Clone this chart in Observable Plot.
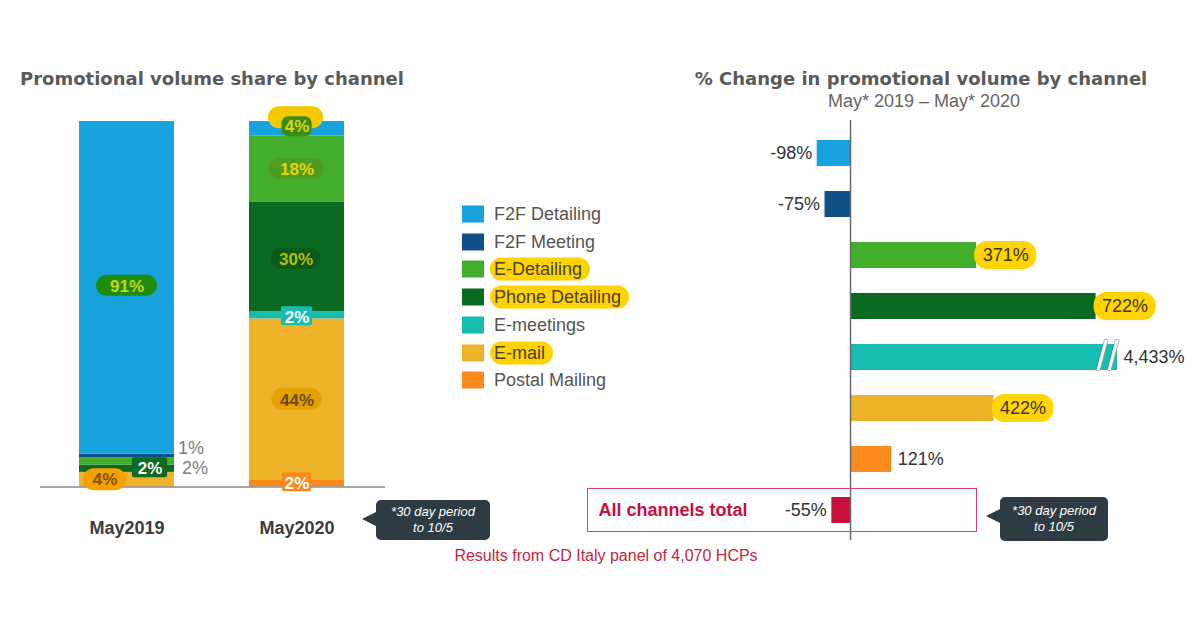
<!DOCTYPE html>
<html><head><meta charset="utf-8">
<script src="https://cdn.jsdelivr.net/npm/d3@7"></script>
<script src="https://cdn.jsdelivr.net/npm/@observablehq/plot@0.6"></script>
<style>
html,body{margin:0;padding:0;background:#fff;}
#root{position:relative;width:1200px;height:630px;overflow:hidden;font-family:"Liberation Sans",Arial,sans-serif;background:#fff;}
.abs{position:absolute;white-space:nowrap;}
.vc{transform:translateY(-50%);}
.title{font-family:"DejaVu Sans",sans-serif;font-weight:bold;font-size:18px;color:#5a5a5a;}
.sub{font-size:18px;color:#666;}
.foot{font-size:16px;color:#c0283a;}
.leg{display:flex;align-items:center;font-size:18px;color:#555;}
.sw{width:22px;height:17px;margin-right:10px;}
.hl{background:#ffd400;border-radius:12px;padding:1px 8px 1px 4px;margin-left:-4px;color:#4a4020;}
.callout{background:#2f3b43;color:#fff;font-style:italic;font-size:13px;line-height:16px;text-align:center;border-radius:5px;display:flex;align-items:center;justify-content:center;}
.callout::before{content:"";position:absolute;left:-14px;top:12px;border-top:7px solid transparent;border-bottom:7px solid transparent;border-right:14px solid #2f3b43;}
.box{border:1.5px solid #d2456e;box-sizing:border-box;}
</style></head><body><div id="root"></div><script>
// ---------- data ----------
const channels = ["F2F Detailing","F2F Meeting","E-Detailing","Phone Detailing","E-meetings","E-mail","Postal Mailing"];
const channelColors = ["#17a2dd","#114f88","#41ae2c","#0a6a22","#17bdb1","#efb22b","#fa8a1c"];
const periods = ["May2019","May2020"];
const share2019 = [91,1,2,2,0,4,0];
const share2020 = [4,0,18,30,2,44,2];
const changeLabels = ["F2F Detailing","F2F Meeting","E-Detailing","Phone Detailing","E-meetings","E-mail","Postal Mailing","All channels total"];
const changeValues = [-98,-75,371,722,4433,422,121,-55];
const totalColor = "#c8103e";
const highlighted = ["E-Detailing","Phone Detailing","E-mail"];

// ---------- derived ----------
const colorOf = Object.fromEntries(channels.map((c,i)=>[c,channelColors[i]]));
colorOf["All channels total"] = totalColor;
const shares = {May2019: share2019, May2020: share2020};
const stackOrder = [...channels].reverse(); // bottom to top
const shareRows = [];
for (const p of periods) for (const c of stackOrder) shareRows.push({period:p, channel:c, value: shares[p][channels.indexOf(c)]});
const stackInfo = {};
for (const p of periods){ let cum=0; stackInfo[p]={}; for (const c of stackOrder){ const v=shares[p][channels.indexOf(c)]; stackInfo[p][c]={lo:cum,hi:cum+v,mid:cum+v/2,value:v}; cum+=v; } }
const pct = v => (v < 0 ? "-" : "") + d3.format(",")(Math.abs(v)) + "%";

const root = document.getElementById("root");
function addDiv(cls, html, css){ const d=document.createElement("div"); d.className=cls; d.innerHTML=html; Object.assign(d.style, css); root.appendChild(d); return d; }

// ---------- left chart ----------
const ppu = 365.5/100; // px per unit on left y
const bw = 95.8;
// pills: offsets in px (dy downward) relative to the segment midpoint
const notes = [
 {period:"May2019", channel:"F2F Detailing", pills:[{fill:"#1e8c0c", w:62, h:21, dx:0, dy:-2}], text:"#c9d41c", dx:0, dy:-2},
 {period:"May2019", channel:"E-mail", pills:[{fill:"#f3a200", w:44, h:22, dx:-22, dy:0}], text:"#8a4c06", dx:-22, dy:-1},
 {period:"May2019", channel:"Phone Detailing", pills:[{fill:"#0b6b22", w:36, h:20, dx:23, dy:-1, r:2}], text:"#ffffff", dx:23, dy:-1},
 {period:"May2020", channel:"F2F Detailing", pills:[{fill:"#f6c800", w:56, h:22, dx:-1, dy:-11}, {fill:"#3a8c14", w:31, h:20, dx:0, dy:-2, r:7}], text:"#d8d41a", dx:0, dy:-3},
 {period:"May2020", channel:"E-Detailing", pills:[{fill:"#4f9c1e", w:56, h:21, dx:0, dy:0}], text:"#e2d60e", dx:0, dy:0},
 {period:"May2020", channel:"Phone Detailing", pills:[{fill:"#0a5a1c", w:51, h:21, dx:-1, dy:2}], text:"#b5bd0a", dx:-1, dy:2},
 {period:"May2020", channel:"E-meetings", pills:[{fill:"#17bdb1", w:32, h:19, dx:0, dy:1, r:2}], text:"#ffffff", dx:0, dy:1},
 {period:"May2020", channel:"E-mail", pills:[{fill:"#e4a200", w:51, h:22, dx:0, dy:0}], text:"#6a4a10", dx:0, dy:0},
 {period:"May2020", channel:"Postal Mailing", pills:[{fill:"#fa8a1c", w:30, h:19, dx:0, dy:-1, r:2}], text:"#ffffff", dx:0, dy:-1}
];
const outside = [
 {period:"May2019", channel:"F2F Meeting", dx:51, dy:-8},
 {period:"May2019", channel:"E-Detailing", dx:55, dy:7}
];
const mid = d => stackInfo[d.period][d.channel].mid;
const pillMarks = [];
for (const n of notes){
  for (const p of n.pills){
    const side = (bw - p.w)/2;
    const c = mid(n) - p.dy/ppu;
    pillMarks.push(Plot.barY([n], {x:"period", y1: ()=>c - p.h/2/ppu, y2: ()=>c + p.h/2/ppu, fill: p.fill, rx: p.r ?? p.h/2, insetLeft: side + p.dx, insetRight: side - p.dx}));
  }
}
const leftPlot = Plot.plot({
  width: 420, height: 450, margin: 0,
  x: {domain: periods, range: [3.3, 420.5], padding: 0.44, axis: null},
  y: {domain: [0,100], range: [386.5, 21], axis: null},
  color: {type: "identity"},
  style: {fontFamily: "Liberation Sans, Arial, sans-serif", background: "transparent"},
  marks: [
    Plot.barY(shareRows, {x: "period", y: "value", fill: d => colorOf[d.channel]}),
    Plot.ruleY([0], {stroke: "#8a8a8a", strokeWidth: 1.5, insetLeft: 40, insetRight: 35}),
    ...pillMarks,
    ...notes.map(n => Plot.text([n], {x: "period", y: mid, dx: n.dx, dy: n.dy+1, text: d=>pct(stackInfo[d.period][d.channel].value), fill: n.text, fontWeight: "bold", fontSize: 17})),
    ...outside.map(o => Plot.text([o], {x: "period", y: mid, dx: o.dx, dy: o.dy, text: d=>pct(stackInfo[d.period][d.channel].value), fill: "#7d7d7d", fontSize: 18, textAnchor: "start"})),
    Plot.text(periods, {x: d=>d, y: ()=>0, dy: 41.5, text: d=>d, fontWeight: "bold", fontSize: 18, fill: "#3c3c3c"})
  ]
});
leftPlot.style.position = "absolute"; leftPlot.style.left = "0px"; leftPlot.style.top = "100px";
root.appendChild(leftPlot);

// ---------- right chart ----------
const cap = 785;
const xDomain = [-794, 1029], xRange = [0, 620];
const u = (xDomain[1]-xDomain[0])/(xRange[1]-xRange[0]); // units per px
const changeRows = changeLabels.map((label,i)=>({label, value: changeValues[i]}));
const rightPlot = Plot.plot({
  width: 620, height: 440, margin: 0,
  x: {domain: xDomain, range: xRange, axis: null},
  y: {domain: changeLabels, range: [0, 434], padding: 0.49, axis: null},
  color: {type: "identity"},
  style: {fontFamily: "Liberation Sans, Arial, sans-serif", background: "transparent"},
  marks: [
    Plot.barX(changeRows, {y: "label", x1: 0, x2: d=>Math.min(d.value, cap), fill: d=>colorOf[d.label]}),
    Plot.barX(changeRows.filter(d=>highlighted.includes(d.label)), {y: "label", x1: d=>d.value - 2*u, x2: d=>d.value + 60*u, fill: "#ffd400", rx: 13, insetTop: -1, insetBottom: -1}),
    Plot.text(changeRows.filter(d=>d.value>cap), {y: "label", x: ()=>cap, dx: -10, text: ()=>"//", fontSize: 40, fill: "#ffffff", stroke: "#6d6d6d", strokeWidth: 1, fontWeight: "normal"}),
    Plot.ruleX([0], {stroke: "#6a6a6a", strokeWidth: 1.5, insetTop: 5, insetBottom: 15}),
    Plot.text(changeRows.filter(d=>d.value>=0), {y: "label", x: d=>Math.min(d.value, cap), dx: 6, textAnchor: "start", text: d=>pct(d.value), fontSize: 18, fill: d=>highlighted.includes(d.label) ? "#3d3510" : "#333333"}),
    Plot.text(changeRows.filter(d=>d.value<0), {y: "label", x: "value", dx: -5, textAnchor: "end", text: d=>pct(d.value), fontSize: 18, fill: "#333333"}),
    Plot.text(["All channels total"], {y: d=>d, frameAnchor: "left", dx: 18, textAnchor: "start", text: d=>d, fontWeight: "bold", fontSize: 18, fill: totalColor})
  ]
});
rightPlot.style.position = "absolute"; rightPlot.style.left = "580px"; rightPlot.style.top = "115px";
root.appendChild(rightPlot);

// ---------- titles, legend, notes ----------
addDiv("abs vc title", "Promotional volume share by channel", {left:"20px", top:"78px"});
addDiv("abs vc title", "% Change in promotional volume by channel", {left:"921px", top:"78px", transform:"translate(-50%,-50%)"});
addDiv("abs vc sub", "May* 2019 – May* 2020", {left:"924px", top:"101px", transform:"translate(-50%,-50%)"});
addDiv("abs vc foot", "Results from CD Italy panel of 4,070 HCPs", {left:"606px", top:"556px", transform:"translate(-50%,-50%)"});
channels.forEach((c,i)=>{
  const label = highlighted.includes(c) ? `<span class="hl">${c}</span>` : `<span>${c}</span>`;
  addDiv("abs vc leg", `<div class="sw" style="background:${colorOf[c]}"></div>${label}`, {left:"462px", top:(214 + i*27.7)+"px"});
});
addDiv("abs box", "", {left:"587px", top:"488px", width:"390px", height:"44px"});
addDiv("abs callout", "*30 day period<br>to 10/5", {left:"376px", top:"500px", width:"114px", height:"40px"});
addDiv("abs callout", "*30 day period<br>to 10/5", {left:"1000px", top:"497px", width:"108px", height:"44px"});
</script></body></html>
